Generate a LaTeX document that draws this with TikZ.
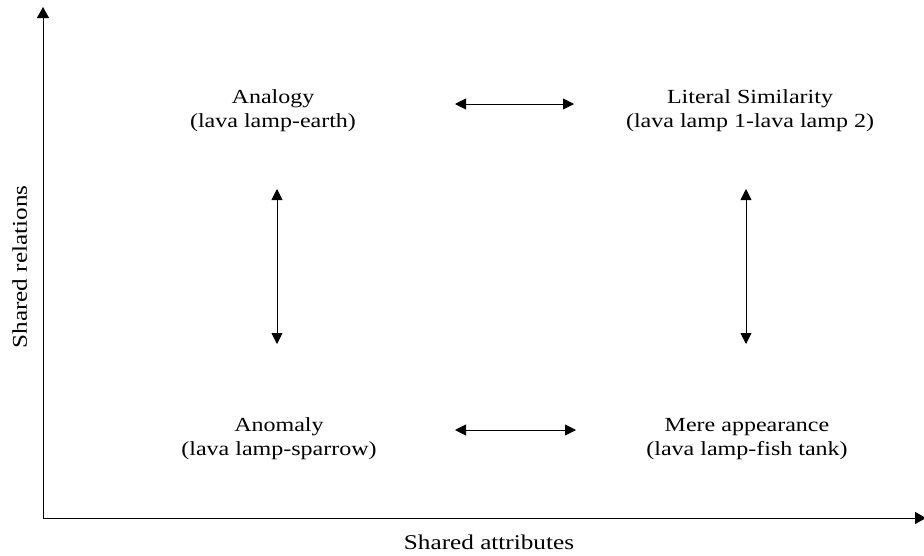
\documentclass[tikz,border=0pt]{standalone}
\usepackage{fontspec}
\setmainfont{Liberation Serif}[FakeStretch=1.2]
\usetikzlibrary{arrows.meta}
\begin{document}
\begin{tikzpicture}[x=1pt,y=-1pt,
  lbl/.style={align=center,font=\fontsize{20}{24}\selectfont,inner sep=0pt,anchor=base},
  axlbl/.style={font=\fontsize{21}{24}\selectfont,inner sep=0pt},
  axis/.style={line width=1pt,-{Triangle[width=12pt,length=11pt]}},
  link/.style={line width=0.9pt,{Triangle[width=11pt,length=11pt]}-{Triangle[width=11pt,length=11pt]}}]
\useasboundingbox (0,0) rectangle (924,555);
% axes
\coordinate (o) at (43,518);
\coordinate (ytop) at (43,7);
\coordinate (xend) at (926,518);
\draw[axis] (o) -- (ytop);
\draw[axis] (o) -- (xend);
\node[axlbl,rotate=90,anchor=base] (ylab) at (27,267) {Shared relations};
\node[axlbl,anchor=base] (xlab) at (489,549) {Shared attributes};
% quadrant labels (anchored at the baseline of the second line)
\node[lbl] (ana) at (273,127) {Analogy\\(lava lamp-earth)};
\node[lbl] (lit) at (750,127) {Literal Similarity\\(lava lamp 1-lava lamp 2)};
\node[lbl] (ano) at (279,455) {Anomaly\\(lava lamp-sparrow)};
\node[lbl] (mer) at (747,455) {Mere appearance\\(lava lamp-fish tank)};
% arrows between quadrants
\coordinate (t1) at (455,104); \coordinate (t2) at (574,104);
\coordinate (b1) at (455,430); \coordinate (b2) at (576,430);
\coordinate (l1) at (277,189); \coordinate (l2) at (277,344);
\coordinate (r1) at (746,189); \coordinate (r2) at (746,344);
\draw[link] (t1) -- (t2);
\draw[link] (b1) -- (b2);
\draw[link] (l1) -- (l2);
\draw[link] (r1) -- (r2);
\end{tikzpicture}
\end{document}
